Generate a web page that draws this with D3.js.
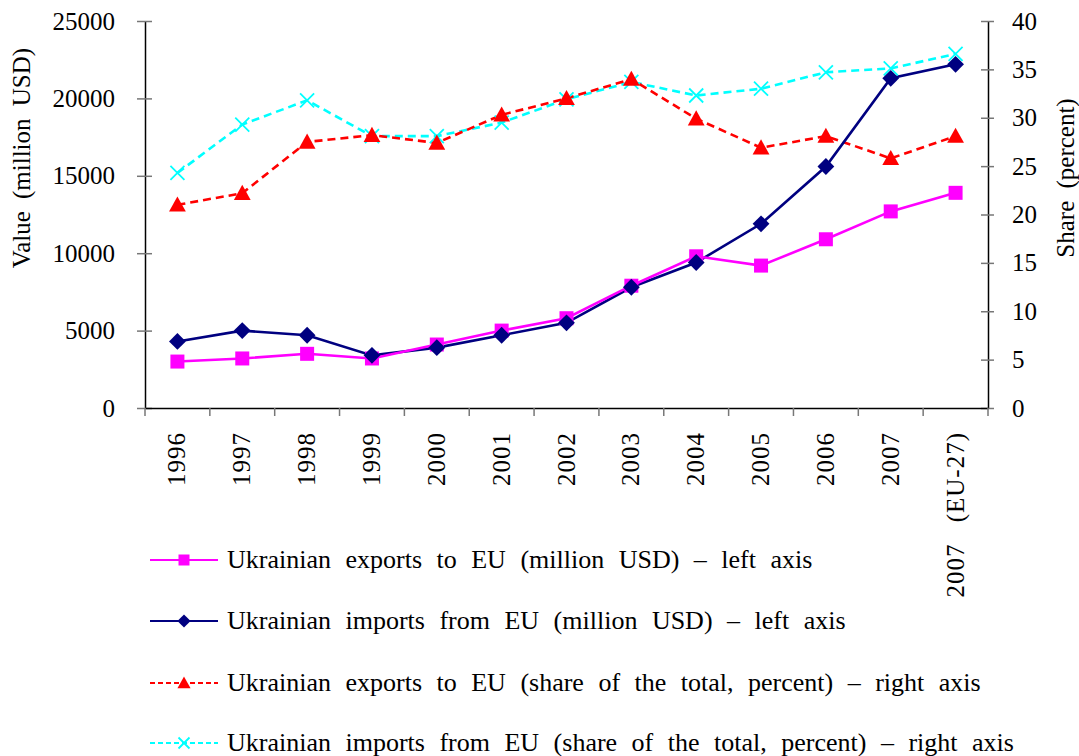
<!DOCTYPE html>
<html>
<head>
<meta charset="utf-8">
<script src="https://cdn.jsdelivr.net/npm/d3@7"></script>
<style>
  body { margin: 0; background: #fff; }
</style>
</head>
<body>
<div id="main"></div>
<script>
const categories = ["1996", "1997", "1998", "1999", "2000", "2001", "2002", "2003", "2004", "2005", "2006", "2007", "2007 (EU-27)"];
const exportsValue = [3000, 3200, 3500, 3200, 4100, 5000, 5800, 7900, 9800, 9200, 10900, 12700, 13900];
const importsValue = [4300, 5000, 4700, 3400, 3900, 4700, 5500, 7800, 9400, 11900, 15600, 21300, 22200];
const exportsShare = [21.0, 22.2, 27.5, 28.2, 27.4, 30.3, 32.0, 34.0, 29.9, 26.9, 28.1, 25.8, 28.1];
const importsShare = [24.3, 29.3, 31.8, 28.1, 28.1, 29.5, 31.9, 33.7, 32.3, 33.0, 34.7, 35.1, 36.6];
const leftTicks = [0, 5000, 10000, 15000, 20000, 25000];
const rightTicks = [0, 5, 10, 15, 20, 25, 30, 35, 40];

onload = () => {
    const W = 1079, H = 756;
    const FONT = "Liberation Serif";
    const svg = d3.select("#main").append("svg").attr("width", W).attr("height", H)
        .attr("font-family", FONT);
    const left = 145, right = 988, top = 21, bottom = 408;

    const x = d3.scaleBand().domain(categories).range([left, right]);
    const yL = d3.scaleLinear().domain([0, 25000]).range([bottom, top]);
    const yR = d3.scaleLinear().domain([0, 40]).range([bottom, top]);

    const series = [
        { name: "Ukrainian exports to EU (million USD) \u2013 left axis", values: exportsValue, y: yL, color: "#ff00ff", dash: null, marker: "square" },
        { name: "Ukrainian imports from EU (million USD) \u2013 left axis", values: importsValue, y: yL, color: "#000080", dash: null, marker: "diamond" },
        { name: "Ukrainian exports to EU (share of the total, percent) \u2013 right axis", values: exportsShare, y: yR, color: "#ff0000", dash: "8,5", marker: "triangle" },
        { name: "Ukrainian imports from EU (share of the total, percent) \u2013 right axis", values: importsShare, y: yR, color: "#00ffff", dash: "8,5", marker: "cross" }
    ];

    // axes
    const axisLeft = d3.axisLeft(yL).tickValues(leftTicks).tickFormat(d3.format("d")).tickSizeInner(8).tickSizeOuter(0).tickPadding(22);
    const gL = svg.append("g").attr("transform", `translate(${left},0)`).call(axisLeft);
    const axisRight = d3.axisRight(yR).tickValues(rightTicks).tickFormat(d3.format("d")).tickSizeInner(6).tickSizeOuter(0).tickPadding(18);
    const gR = svg.append("g").attr("transform", `translate(${right},0)`).call(axisRight);
    const xAxis = d3.axisBottom(x).tickSize(0).tickFormat("");
    const gX = svg.append("g").attr("transform", `translate(0,${bottom})`).call(xAxis);

    [gL, gR, gX].forEach(g => {
        g.attr("font-family", FONT).attr("font-size", 25);
        g.select(".domain").attr("stroke", "#000").attr("stroke-width", 1.5);
        g.selectAll("text").attr("fill", "#000");
    });
    gL.selectAll(".tick line").attr("x1", 7).attr("x2", -8).attr("stroke", "#777").attr("stroke-width", 1.5);
    gR.selectAll(".tick line").attr("x1", -7).attr("x2", 6).attr("stroke", "#777").attr("stroke-width", 1.5);

    const bounds = categories.map(c => x(c)).concat([right]);
    svg.append("g").selectAll("line").data(bounds).join("line")
        .attr("x1", d => d).attr("x2", d => d)
        .attr("y1", bottom).attr("y2", bottom + 8)
        .attr("stroke", "#777").attr("stroke-width", 1.5);

    svg.append("g").selectAll("text").data(categories).join("text")
        .attr("transform", d => `translate(${x(d) + x.bandwidth() / 2 + 8},432) rotate(-90)`)
        .attr("text-anchor", "end")
        .attr("font-size", 25)
        .attr("letter-spacing", 1)
        .attr("word-spacing", 14)
        .text(d => d);

    svg.append("text")
        .attr("transform", "translate(30,158) rotate(-90)")
        .attr("text-anchor", "middle")
        .attr("font-size", 25).attr("word-spacing", 6)
        .text("Value (million USD)");
    svg.append("text")
        .attr("transform", "translate(1074,178) rotate(-90)")
        .attr("text-anchor", "middle")
        .attr("font-size", 25).attr("word-spacing", 6)
        .text("Share (percent)");

    function drawMarker(g, type, color, s) {
        if (type === "square") {
            g.append("rect").attr("x", -s / 2).attr("y", -s / 2).attr("width", s).attr("height", s).attr("fill", color);
        } else if (type === "diamond") {
            const r = s * 0.6;
            g.append("path").attr("d", `M0,${-r}L${r},0L0,${r}L${-r},0Z`).attr("fill", color);
        } else if (type === "triangle") {
            const r = s * 0.6;
            g.append("path").attr("d", `M0,${-r}L${r},${r * 0.8}L${-r},${r * 0.8}Z`).attr("fill", color);
        } else {
            const r = s / 2;
            g.append("path").attr("d", `M${-r},${-r}L${r},${r}M${-r},${r}L${r},${-r}`)
                .attr("stroke", color).attr("stroke-width", 1.8).attr("fill", "none");
        }
    }

    const line = (yScale) => d3.line().x((d, i) => x(categories[i]) + x.bandwidth() / 2).y(d => yScale(d));

    [series[3], series[2], series[1], series[0]].forEach(s => {
        svg.append("path").datum(s.values)
            .attr("d", line(s.y))
            .attr("fill", "none")
            .attr("stroke", s.color)
            .attr("stroke-width", 2.6)
            .attr("stroke-dasharray", s.dash);
    });
    [series[3], series[2], series[0], series[1]].forEach(s => {
        s.values.forEach((v, i) => {
            const g = svg.append("g").attr("transform", `translate(${x(categories[i]) + x.bandwidth() / 2},${s.y(v)})`);
            drawMarker(g, s.marker, s.color, 14);
        });
    });

    const legendY = [560, 621, 683, 743];
    series.forEach((s, i) => {
        const g = svg.append("g").attr("transform", `translate(0,${legendY[i]})`);
        g.append("line").attr("x1", 150).attr("x2", 218).attr("y1", 0).attr("y2", 0)
            .attr("stroke", s.color).attr("stroke-width", 2.2).attr("stroke-dasharray", s.dash ? "5,3" : null);
        const m = g.append("g").attr("transform", "translate(184,0)");
        drawMarker(m, s.marker, s.color, 11);
        g.append("text").attr("x", 227).attr("y", 8)
            .attr("font-size", 26).attr("word-spacing", 8)
            .text(s.name);
    });
};
</script>
</body>
</html>
